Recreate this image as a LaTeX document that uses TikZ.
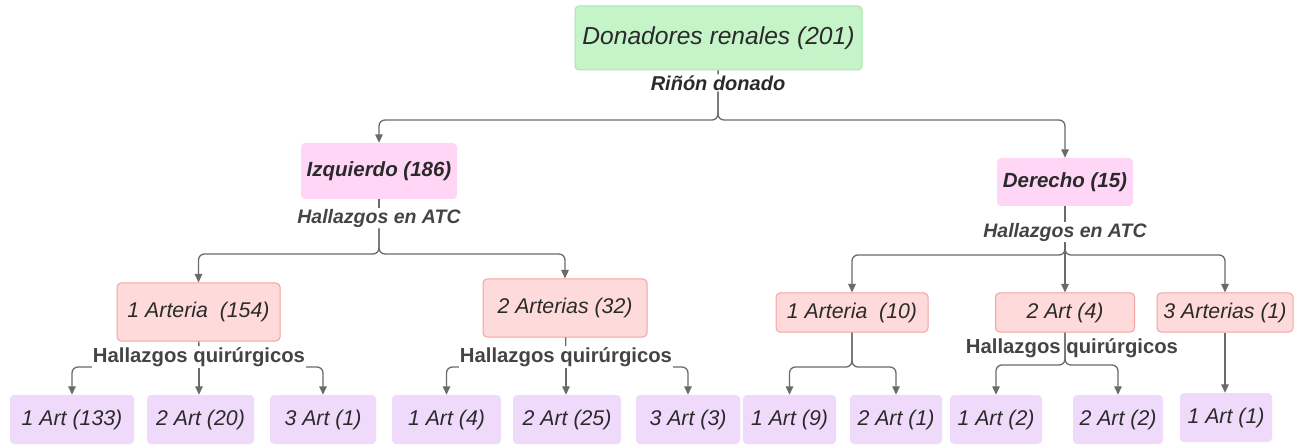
\documentclass[tikz,border=0pt]{standalone}
\usepackage{fontspec}
\setmainfont{Liberation Sans}
\usepackage{tikz}
\usetikzlibrary{arrows.meta}
\usepackage{xcolor}
\definecolor{rootfill}{HTML}{C4F4C8}
\definecolor{rootedge}{HTML}{A6E6AD}
\definecolor{sidefill}{HTML}{FFD6F6}
\definecolor{artfill}{HTML}{FFDADA}
\definecolor{artedge}{HTML}{F4A2A2}
\definecolor{leaffill}{HTML}{F0DAFC}
\definecolor{inkgray}{HTML}{2A2A2A}
\definecolor{labelgray}{HTML}{444444}
\definecolor{linegray}{HTML}{6A6A6A}

\begin{document}
\begin{tikzpicture}[
    x=1pt, y=-1pt,
    box/.style={rounded corners=4pt, inner sep=0pt, align=center, text=inkgray,
                font=\fontsize{21.3}{25}\selectfont\itshape},
    rootbox/.style={box, fill=rootfill, draw=rootedge, line width=1pt,
                    minimum width=287pt, minimum height=64pt,
                    font=\fontsize{24.6}{29}\selectfont\itshape},
    sidebox/.style={box, fill=sidefill, font=\fontsize{20.5}{24}\selectfont\bfseries\itshape},
    artbox/.style={box, fill=artfill, draw=artedge, line width=1pt},
    leafbox/.style={box, fill=leaffill, minimum height=49pt},
    lbl/.style={inner sep=1pt, text=inkgray, font=\fontsize{20}{24}\selectfont\bfseries\itshape},
    atc/.style={lbl, text=labelgray, font=\fontsize{19.5}{23}\selectfont\bfseries\itshape},
    hq/.style={inner sep=1pt, text=labelgray, font=\fontsize{20.3}{24}\selectfont\bfseries},
    link/.style={draw=linegray, line width=1.3pt, rounded corners=6pt},
    arr/.style={link, -{Triangle[length=8.5pt, width=7.5pt]}}
]
    \useasboundingbox (0,0) rectangle (1301,446);

    % Donantes y lado del rinon
    \node[rootbox] (root) at (718.5,38) {Donadores renales (201)};
    \node[lbl] (rin) at (718,83) {Riñón donado};
    \node[sidebox, minimum width=156pt, minimum height=56pt] (izq) at (379,171) {Izquierdo (186)};
    \node[sidebox, minimum width=136pt, minimum height=48pt] (der) at (1065,182) {Derecho (15)};
    \node[atc] (atcL) at (379,218) {Hallazgos en ATC};
    \node[atc] (atcR) at (1065,232) {Hallazgos en ATC};

    % Arterias en ATC
    \node[artbox, minimum width=163pt, minimum height=58pt] (a1) at (198.5,312) {1 Arteria\ \ (154)};
    \node[artbox, minimum width=164pt, minimum height=58pt] (a2) at (565,308) {2 Arterias (32)};
    \node[artbox, minimum width=152pt, minimum height=39pt] (a3) at (852,312.5) {1 Arteria\ \ (10)};
    \node[artbox, minimum width=139pt, minimum height=39pt] (a4) at (1065,312.5) {2 Art (4)};
    \node[artbox, minimum width=136pt, minimum height=39pt] (a5) at (1225,312.5) {3 Arterias (1)};

    \node[hq] (hq1) at (199,357) {Hallazgos quirúrgicos};
    \node[hq] (hq2) at (566,357) {Hallazgos quirúrgicos};

    % Hallazgos quirurgicos
    \foreach \n/\x/\w/\t in {1/72/124/1 Art (133), 2/200.5/107/2 Art (20), 3/323/106/3 Art (1),
                            4/446.5/109/1 Art (4), 5/567/108/2 Art (25), 6/688/104/3 Art (3),
                            7/789.5/93/1 Art (9), 8/896/92/2 Art (1), 9/996/92/1 Art (2),
                            10/1118/90/2 Art (2)} {
        \node[leafbox, minimum width=\w pt] (b\n) at (\x,419.5) {\t};
    }
    \node[leafbox, minimum width=92pt] (b11) at (1226,417.5) {1 Art (1)};

    % Conectores
    \coordinate (j0) at (718,120);
    \draw[link] (root) -- (rin);
    \draw[arr] (rin.south) -- (j0) -| (izq.north);
    \draw[arr] (rin.south) -- (j0) -| (der.north);

    \coordinate (j1) at (379,254);
    \draw[link] (izq) -- (atcL);
    \draw[arr] (atcL.south) -- (j1) -| (a1.north);
    \draw[arr] (atcL.south) -- (j1) -| (a2.north);

    \coordinate (j2) at (1065,255);
    \draw[link] (der) -- (atcR);
    \draw[arr] (atcR.south) -- (j2) -| (a3.north);
    \draw[arr] (atcR.south) -- (a4.north);
    \draw[arr] (atcR.south) -- (j2) -| (a5.north);

    \draw[link] (a1) -- (hq1);
    \draw[arr] ([yshift=-10pt]hq1.west) -| (b1.north);
    \draw[arr] (hq1.south) -- (hq1.south |- b2.north);
    \draw[arr] ([yshift=-10pt]hq1.east) -| (b3.north);

    \draw[link] (a2) -- (hq2);
    \draw[arr] ([yshift=-10pt]hq2.west) -| (b4.north);
    \draw[arr] (hq2.south) -- (hq2.south |- b5.north);
    \draw[arr] ([yshift=-10pt]hq2.east) -| (b6.north);

    \coordinate (j3) at (852,367);
    \draw[arr] (a3.south) -- (j3) -| (b7.north);
    \draw[arr] (a3.south) -- (j3) -| (b8.north);

    \coordinate (j4) at (1065,365);
    \draw[arr] (a4.south) -- (j4) -| (b9.north);
    \draw[arr] (a4.south) -- (j4) -| (b10.north);
    \node[hq] (hq3) at (1072,348) {Hallazgos quirúrgicos};

    \draw[arr] (a5.south) -- (a5.south |- b11.north);
\end{tikzpicture}
\end{document}
